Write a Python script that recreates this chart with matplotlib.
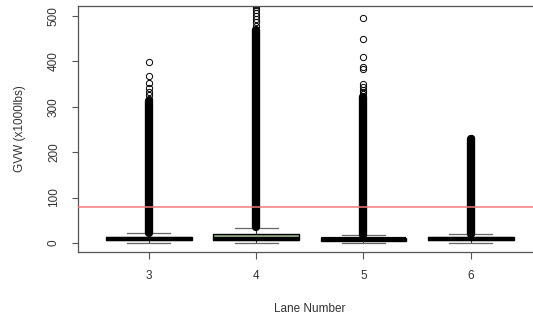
import matplotlib

matplotlib.use("Agg")

import matplotlib.pyplot as plt

plt.rcParams["font.family"] = ["Liberation Sans", "DejaVu Sans"]

# box statistics per lane (GVW in x1000 lbs)
lanes = ["3", "4", "5", "6"]
whisker_low = [0, 0, 0, 0]
q1 = [7, 7, 5, 6]
median = [9, 8, 8, 9]
q3 = [12, 19, 11, 12]
whisker_high = [22, 33, 17, 20]

# outliers: dense overlapping run (start, end) plus the separate points above it
dense_start = [22, 35, 18, 20]
dense_end = [312, 470, 322, 228]
sparse_outliers = [
    [318, 325, 333, 341, 352, 368, 399],
    [478, 486, 494, 500, 507, 513, 519, 525, 531],
    [328, 333, 338, 344, 350, 383, 388, 410, 449, 496],
    [231],
]
box_fill = ["white", "#8fae8a", "white", "white"]

threshold = 80

AXIS = "#555555"

fig = plt.figure(figsize=(5.33, 3.2), dpi=100)
ax = fig.add_axes([78 / 533, 68 / 320, 463.6 / 533, 246 / 320])

stats = []
for i, lane in enumerate(lanes):
    stats.append(
        {
            "label": lane,
            "whislo": whisker_low[i],
            "q1": q1[i],
            "med": median[i],
            "q3": q3[i],
            "whishi": whisker_high[i],
            "fliers": sparse_outliers[i],
        }
    )

positions = list(range(1, len(lanes) + 1))
parts = ax.bxp(
    stats,
    positions=positions,
    widths=0.8,
    capwidths=0.4,
    patch_artist=True,
    boxprops=dict(edgecolor="black", linewidth=1.0),
    medianprops=dict(color="black", linewidth=3.0, solid_capstyle="butt"),
    whiskerprops=dict(color="#333333", linewidth=0.8, linestyle="--"),
    capprops=dict(color="#666666", linewidth=0.9),
    flierprops=dict(marker="o", markerfacecolor="none", markeredgecolor="black",
                    markersize=4.5, markeredgewidth=0.7),
)
for patch, fill in zip(parts["boxes"], box_fill):
    patch.set_facecolor(fill)

# dense outlier runs: the circles overlap into a solid column
for pos, lo, hi in zip(positions, dense_start, dense_end):
    ax.plot([pos, pos], [lo, hi], color="black", linewidth=6,
            solid_capstyle="round", zorder=3)

ax.axhline(threshold, color="#f07a7a", linewidth=1.1, zorder=4)

ax.set_xlim(0.34, 4.66)
ax.set_ylim(-20, 522)
ax.set_yticks([0, 100, 200, 300, 400, 500])
ax.set_xticks(positions)
ax.set_xticklabels(lanes)
ax.tick_params(axis="y", labelrotation=90, length=4, color=AXIS, labelsize=8.5,
               labelcolor="#333333", pad=9)
ax.tick_params(axis="x", length=5, color=AXIS, labelsize=8.5, labelcolor="#333333", pad=8)
for label in ax.get_yticklabels():
    label.set_va("center")
for spine in ax.spines.values():
    spine.set_color(AXIS)
    spine.set_linewidth(0.9)

ax.set_xlabel("Lane Number", fontsize=8.5, color="#333333", labelpad=15)
ax.set_ylabel("GVW (x1000lbs)", fontsize=8.5, color="#333333", labelpad=16)

fig.savefig("out.png", dpi=100)
